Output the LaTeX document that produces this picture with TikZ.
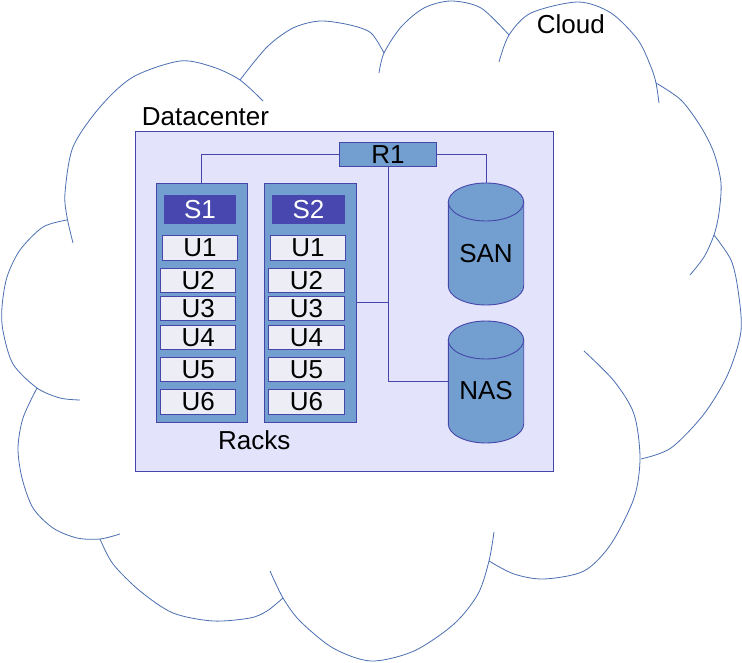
\documentclass[tikz,border=0pt]{standalone}
\usepackage{fontspec}
\setmainfont{Liberation Sans}
\usepackage{tikz}
\definecolor{softlavender}{HTML}{E3E3FC}
\definecolor{skyblue}{HTML}{729FCF}
\definecolor{inkblue}{HTML}{4646AA}
\definecolor{deepblue}{HTML}{4747AF}
\definecolor{cloudblue}{HTML}{4A6EB0}
\definecolor{slotgray}{HTML}{EDEDF5}

\tikzset{
  cloudline/.style={draw=cloudblue, line width=0.8pt},
  link/.style={draw=inkblue, line width=0.9pt},
  dcbox/.style={draw=inkblue, line width=0.9pt, fill=softlavender,
    minimum width=418pt, minimum height=340pt, inner sep=0pt},
  rackbox/.style={draw=inkblue, line width=0.9pt, fill=skyblue,
    minimum width=91.5pt, minimum height=239pt, inner sep=0pt},
  srvbox/.style={fill=deepblue, text=white,
    minimum width=72.5pt, minimum height=28.7pt, inner sep=0pt},
  slotbox/.style={draw=inkblue, line width=0.8pt, fill=slotgray,
    minimum width=75.3pt, minimum height=24.5pt, inner sep=0pt},
  routerbox/.style={draw=inkblue, line width=0.8pt, fill=skyblue,
    minimum width=97.5pt, minimum height=23.3pt, inner sep=0pt},
  disk/.style={draw=inkblue, line width=0.9pt, fill=skyblue},
  caption/.style={inner sep=0pt}
}

\begin{document}
\begin{tikzpicture}[x=1pt, y=-1pt, font=\fontsize{26}{31}\selectfont]
    \useasboundingbox (0,0) rectangle (742,663);

    % cloud outline, one lobe at a time
    \draw[cloudline] plot[smooth] coordinates {(67,220) (43,227) (20,250) (7,277) (2,307) (3,331) (13,364) (37,388) (60,398) (80,400)};
    \draw[cloudline] plot[smooth] coordinates {(37,388) (23,418) (18,448) (22,478) (33,508) (53,528) (77,538) (100,539) (120,534)};
    \draw[cloudline] plot[smooth] coordinates {(100,539) (113,564) (140,591) (173,613) (213,621) (250,618) (267,611) (283,598)};
    \draw[cloudline] plot[smooth] coordinates {(270,571) (283,598) (300,621) (333,648) (371,661) (414,651) (454,624) (478,594) (489,561) (494,532)};
    \draw[cloudline] plot[smooth] coordinates {(489,561) (514,574) (544,579) (584,571) (611,544) (634,498) (640,458) (634,414) (614,381) (584,351)};
    \draw[cloudline] plot[smooth] coordinates {(641,459) (671,448) (704,414) (728,374) (741,331) (738,290) (731,260) (714,235)};
    \draw[cloudline] plot[smooth] coordinates {(656,83) (681,100) (701,127) (714,153) (721,183) (719,213) (714,235) (704,257) (690,275)};
    \draw[cloudline] plot[smooth] coordinates {(499,62) (509,35) (531,13) (578,2) (611,13) (638,40) (651,67) (656,83) (659,103)};
    \draw[cloudline] plot[smooth] coordinates {(379,73) (384,53) (401,27) (424,8) (451,1) (481,8) (509,35)};
    \draw[cloudline] plot[smooth] coordinates {(240,80) (267,47) (293,28) (320,21) (350,25) (371,33) (384,53)};
    \draw[cloudline] plot[smooth] coordinates {(73,243) (67,217) (65,193) (73,147) (100,107) (133,77) (180,61) (213,67) (240,80) (263,101)};
    \node[caption, anchor=base west] (cloudlabel) at (536.7,33.3) {Cloud};

    % datacenter
    \node[dcbox] (datacenter) at (344.3,301) {};
    \node[caption, anchor=base west] (dclabel) at (141.7,126) {Datacenter};

    % racks with servers and slots
    \node[rackbox] (rack1) at (201.7,302.5) {};
    \node[rackbox] (rack2) at (310.3,302.5) {};
    \node[srvbox] (s1) at (200,209.4) {S1};
    \node[srvbox] (s2) at (308.5,209.4) {S2};
    \node[slotbox] (ua1) at (200,247.8) {U1};
    \node[slotbox] (ub1) at (308,247.8) {U1};
    \foreach \u/\y in {2/280.3, 3/308.5, 4/337.2, 5/369.5, 6/401.8} {
      \node[slotbox] (ua\u) at (198.2,\y) {U\u};
      \node[slotbox] (ub\u) at (306.5,\y) {U\u};
    }
    \node[caption, anchor=base] (rackslabel) at (254.2,449.3) {Racks};

    % storage
    \foreach \yt in {202, 340} {
      \path[disk] (448.3,\yt) -- (448.3,\yt+84)
        arc[start angle=180, end angle=0, x radius=37.7, y radius=19]
        -- (523.7,\yt)
        arc[start angle=0, end angle=-180, x radius=37.7, y radius=19] -- cycle;
      \draw[link] (448.3,\yt) arc[start angle=180, end angle=0, x radius=37.7, y radius=19];
    }
    \coordinate (santop) at (486,183);
    \coordinate (nasleft) at (448.3,381);
    \node[caption] (san) at (486,253.5) {SAN};
    \node[caption] (nas) at (486,391) {NAS};

    % router
    \node[routerbox] (router) at (388,154.5) {R1};

    \draw[link] (router.west) -| (rack1.north);
    \draw[link] (router.east) -| (santop);
    \draw[link] (router.south) |- (nasleft);
    \draw[link] (rack2.east) -- (rack2.east -| router.south);
  \end{tikzpicture}
\end{document}
